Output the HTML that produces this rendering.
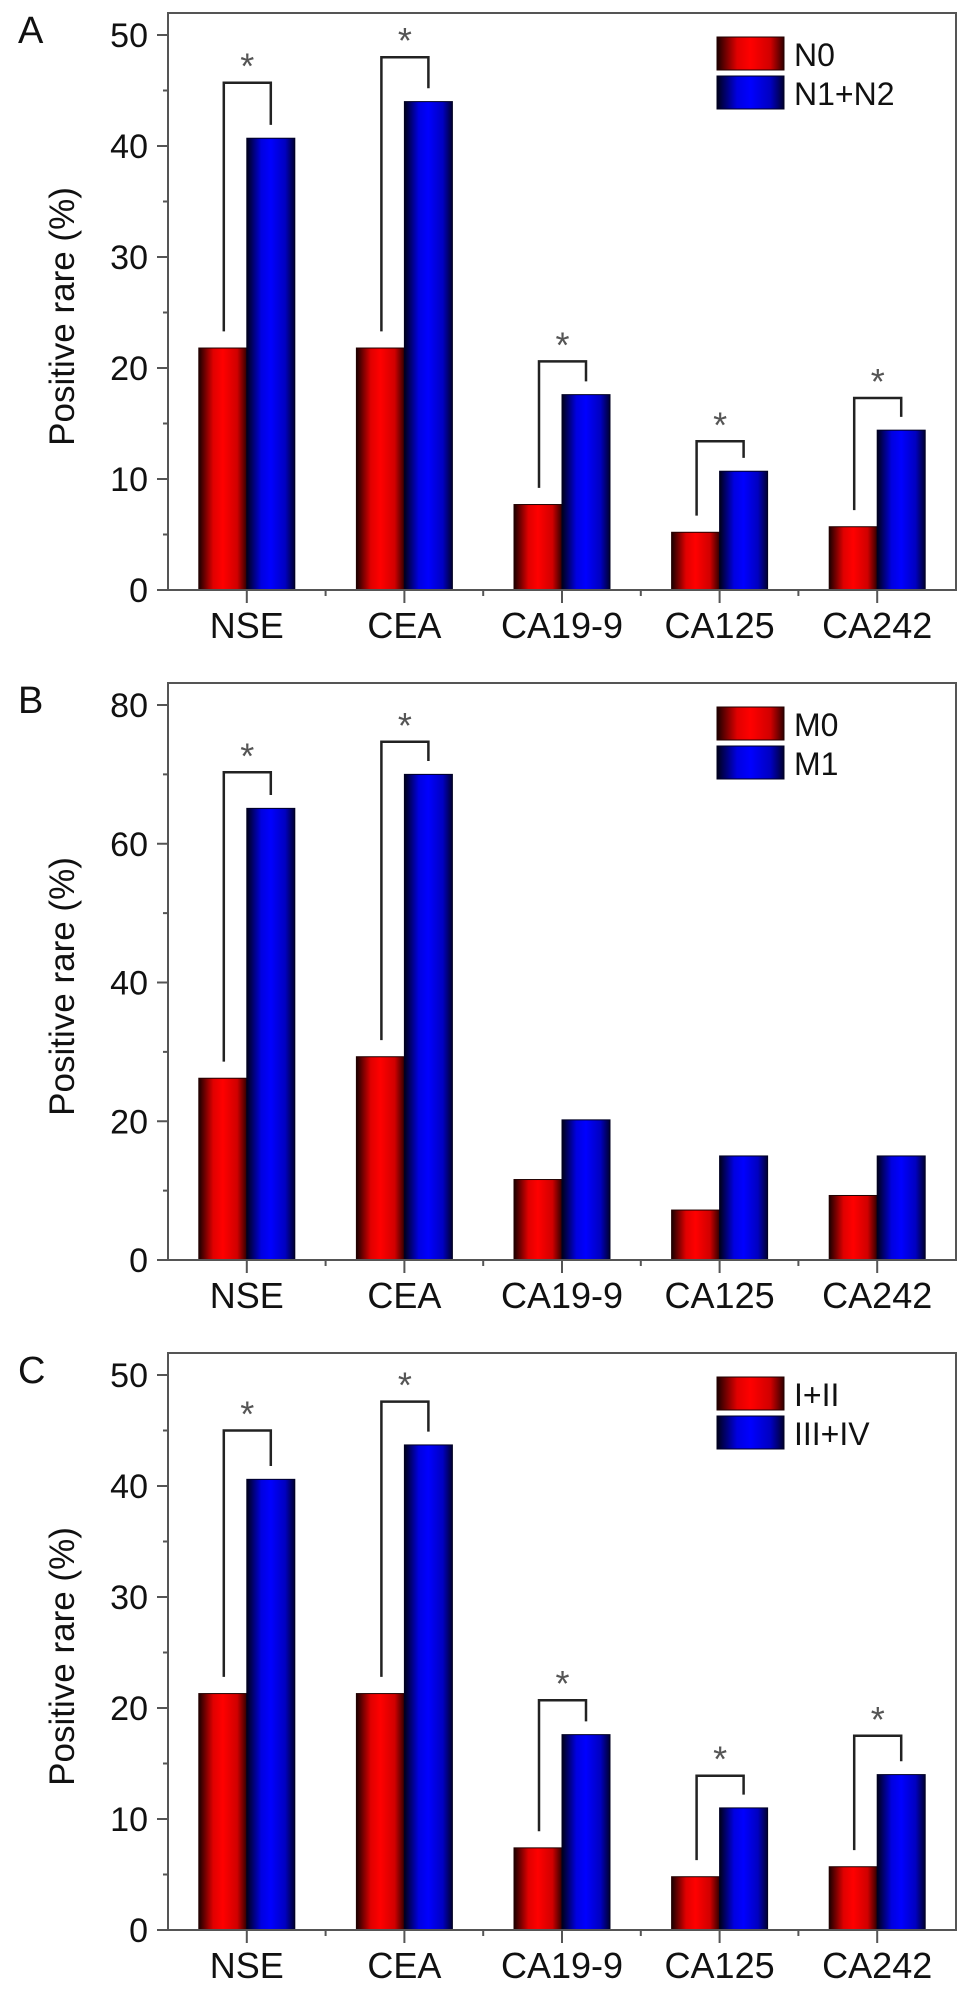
<!DOCTYPE html>
<html><head><meta charset="utf-8"><style>
html,body{margin:0;padding:0;background:#fff;}
svg{display:block;font-family:"Liberation Sans",Arial,sans-serif;}
</style></head><body>
<svg id="fig" width="969" height="1994" viewBox="0 0 969 1994" xmlns="http://www.w3.org/2000/svg">
<defs>
<linearGradient id="gr" x1="0" x2="1" y1="0" y2="0"><stop offset="0" stop-color="#1a0000"/><stop offset="0.3" stop-color="#e00000"/><stop offset="0.5" stop-color="#ff0000"/><stop offset="0.8" stop-color="#d00000"/><stop offset="1" stop-color="#300000"/></linearGradient>
<linearGradient id="gb" x1="0" x2="1" y1="0" y2="0"><stop offset="0" stop-color="#000018"/><stop offset="0.3" stop-color="#0000e0"/><stop offset="0.5" stop-color="#0000ff"/><stop offset="0.8" stop-color="#0000c0"/><stop offset="1" stop-color="#000030"/></linearGradient>
</defs>
</svg>
<script>
const categories = ["NSE","CEA","CA19-9","CA125","CA242"];
const panelLetters = ["A","B","C"];
const legendRed = ["N0","M0","I+II"];
const legendBlue = ["N1+N2","M1","III+IV"];
const yMaxes = [52, 82, 52];
const yMajorTicks = [[0,10,20,30,40,50],[0,20,40,60,80],[0,10,20,30,40,50]];
const yMinorTicks = [[5,15,25,35,45],[10,30,50,70],[5,15,25,35,45]];
const redA = [21.8, 21.8, 7.7, 5.2, 5.7];
const blueA = [40.7, 44.0, 17.6, 10.7, 14.4];
const redB = [26.2, 29.3, 11.6, 7.2, 9.3];
const blueB = [65.1, 70.0, 20.2, 15.0, 15.0];
const redC = [21.3, 21.3, 7.4, 4.8, 5.7];
const blueC = [40.6, 43.7, 17.6, 11.0, 14.0];
const sigA = [1,1,1,1,1];
const sigB = [1,1,0,0,0];
const sigC = [1,1,1,1,1];
const bracketTopA = [45.7, 48.0, 20.6, 13.4, 17.3];
const bracketTopB = [70.3, 74.7, 0, 0, 0];
const bracketTopC = [45.0, 47.6, 20.7, 13.9, 17.5];

const reds=[redA,redB,redC], blues=[blueA,blueB,blueC], sigs=[sigA,sigB,sigC], tops=[bracketTopA,bracketTopB,bracketTopC];
const boxTops=[13,683,1353];
const svg=document.getElementById('fig');
const NS="http://www.w3.org/2000/svg";
function mk(tag,attrs,parent){const e=document.createElementNS(NS,tag);for(const k in attrs)e.setAttribute(k,attrs[k]);parent.appendChild(e);return e;}
const L=168,R=956,BW=48;
for(let p=0;p<3;p++){
  const top=boxTops[p], y0=top+577, ymax=yMaxes[p];
  const unit=(y0-(top+22))/(ymax-2);
  const yS=v=>y0-v*unit;
  const xC=i=>L+(i+0.5)*(R-L)/categories.length;
  const g=mk('g',{},svg);
  
  
  const lab=mk('text',{x:18,y:top+30,'font-size':38,fill:'#111'},g);lab.textContent=panelLetters[p];
  
  
  for(let i=0;i<categories.length;i++){
    const c=xC(i);
    const rb=mk('rect',{x:c-BW,y:yS(reds[p][i]),width:BW,height:reds[p][i]*unit,fill:'url(#gr)',stroke:'#200',"stroke-width":1},g);
    
    
    const bb=mk('rect',{x:c,y:yS(blues[p][i]),width:BW,height:blues[p][i]*unit,fill:'url(#gb)',stroke:'#002',"stroke-width":1},g);
    
    
    if(sigs[p][i]){
      const xl=c-BW/2+1, xr=c+BW/2;
      const yt=yS(tops[p][i]), yl=yS(reds[p][i]+1.5*(ymax>60?1.6:1)), yr=yS(blues[p][i]+1.2*(ymax>60?1.6:1));
      const br=mk('path',{d:`M${xl},${yl}V${yt}H${xr}V${yr}`,fill:'none',stroke:'#222','stroke-width':2.5},g);
      
      
      const st=mk('text',{x:(xl+xr)/2,y:yt-4,'font-size':36,fill:'#555','text-anchor':'middle'},g);st.textContent='*';
      
      
    }
  }
  const bx=mk('rect',{x:L,y:top,width:R-L,height:y0-top,fill:'none',stroke:'#555','stroke-width':2},g);
  
  
  yMajorTicks[p].forEach(v=>{
    mk('line',{x1:L-11,x2:L,y1:yS(v),y2:yS(v),stroke:'#555','stroke-width':2},g);
    const t=mk('text',{x:L-20,y:yS(v)+12,'font-size':34,fill:'#111','text-anchor':'end'},g);t.textContent=v;
    
    
  });
  yMinorTicks[p].forEach(v=>mk('line',{x1:L-5,x2:L,y1:yS(v),y2:yS(v),stroke:'#555','stroke-width':2},g));
  for(let i=0;i<categories.length;i++){
    const c=xC(i);
    mk('line',{x1:c,x2:c,y1:y0,y2:y0+13,stroke:'#555','stroke-width':2},g);
    if(i>0){const b=L+i*(R-L)/categories.length;mk('line',{x1:b,x2:b,y1:y0,y2:y0+6,stroke:'#555','stroke-width':2},g);}
    const t=mk('text',{x:c,y:y0+48,'font-size':36,fill:'#111','text-anchor':'middle'},g);t.textContent=categories[i];
    
    
  }
  const yc=(top+y0)/2+15;
  const yt=mk('text',{x:0,y:0,'font-size':35,fill:'#111','text-anchor':'middle',transform:`translate(74,${yc}) rotate(-90)`},g);yt.textContent='Positive rare (%)';
  
  
  const lr=mk('rect',{x:717,y:top+24,width:67,height:33,fill:'url(#gr)',stroke:'#200'},g);
  
  
  const lb=mk('rect',{x:717,y:top+63,width:67,height:33,fill:'url(#gb)',stroke:'#002'},g);
  
  
  const t1=mk('text',{x:794,y:top+53,'font-size':32,fill:'#111'},g);t1.textContent=legendRed[p];
  
  
  const t2=mk('text',{x:794,y:top+92,'font-size':32,fill:'#111'},g);t2.textContent=legendBlue[p];
  
  
}
</script>
</body></html>
